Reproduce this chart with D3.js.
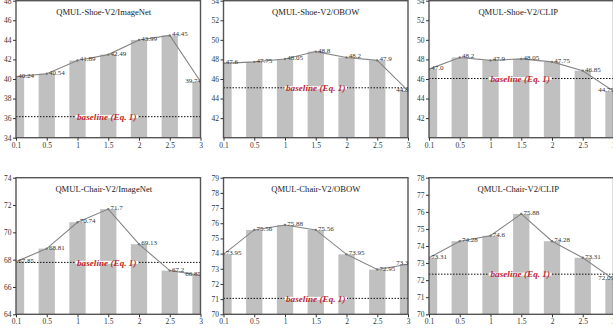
<!DOCTYPE html>
<html><head><meta charset="utf-8">
<script src="https://cdn.jsdelivr.net/npm/d3@7"></script>
<style>
html,body{margin:0;padding:0;background:#fff;overflow:hidden;}
svg{display:block;}
text{font-family:"Liberation Serif","Times New Roman",serif;}
</style></head>
<body>
<svg id="chart" width="613" height="332"></svg>
<script>
const categories = ["0.1", "0.5", "1", "1.5", "2", "2.5", "3"];
const titles = ["QMUL-Shoe-V2/ImageNet", "QMUL-Shoe-V2/OBOW", "QMUL-Shoe-V2/CLIP",
                "QMUL-Chair-V2/ImageNet", "QMUL-Chair-V2/OBOW", "QMUL-Chair-V2/CLIP"];
const shoeImageNet = [40.24, 40.54, 41.89, 42.49, 43.99, 44.45, 39.74];
const shoeOBOW     = [47.6, 47.75, 48.05, 48.8, 48.2, 47.9, 44.8];
const shoeCLIP     = [47.0, 48.2, 47.9, 48.05, 47.75, 46.85, 44.75];
const chairImageNet= [67.85, 68.81, 70.74, 71.7, 69.13, 67.2, 66.85];
const chairOBOW    = [73.95, 75.56, 75.88, 75.56, 73.95, 72.95, 73.3];
const chairCLIP    = [73.31, 74.28, 74.6, 75.88, 74.28, 73.31, 72.05];
const baselines    = [36.15, 45.1, 46.05, 67.8, 71.05, 72.35];
const baselineLabel = "baseline (Eq. 1)";
const yDomains = [[34, 48], [40, 54], [40, 54], [64, 74], [70, 79], [70, 78]];
const yTicks = [
  [34, 36, 38, 40, 42, 44, 46, 48],
  [42, 44, 46, 48, 50, 52, 54],
  [42, 44, 46, 48, 50, 52, 54],
  [64, 66, 68, 70, 72, 74],
  [70, 71, 72, 73, 74, 75, 76, 77, 78, 79],
  [70, 71, 72, 73, 74, 75, 76, 77, 78]
];
const series = [shoeImageNet, shoeOBOW, shoeCLIP, chairImageNet, chairOBOW, chairCLIP];

// layout
const colLeft = [16, 223.5, 429];
const colWidth = 184.5;
const rowTop = [0.7, 177.7];
const rowHeight = [137, 136.6];
const titleShift = [-4.5, 0, -3];
const labelShift = [-1.5, 0, -1];

const svg = d3.select("#chart");
const fmt = v => Number.isInteger(v) ? v.toFixed(1) : String(v);

series.forEach((vals, i) => {
  const c = i % 3, r = Math.floor(i / 3);
  const L = colLeft[c], T = rowTop[r], W = colWidth, H = rowHeight[r];
  const g = svg.append("g").attr("transform", `translate(${L},${T})`);
  const x = d3.scalePoint().domain(categories).range([0, W]).padding(0);
  const y = d3.scaleLinear().domain(yDomains[i]).range([H, 0]);
  const bw = x.step() * 0.53;
  const last = categories.length - 1;

  const clipId = "clip" + i;
  g.append("clipPath").attr("id", clipId).append("rect")
    .attr("x", 0).attr("y", 0).attr("width", W).attr("height", H);

  const plot = g.append("g").attr("clip-path", `url(#${clipId})`);
  plot.selectAll("rect.bar").data(vals).join("rect").attr("class", "bar")
    .attr("x", (d, k) => x(categories[k]) - bw / 2)
    .attr("width", bw)
    .attr("y", d => y(d))
    .attr("height", d => H - y(d))
    .attr("fill", "#c0c0c0");

  // baseline dotted line
  const by = y(baselines[i]);
  plot.append("line").attr("x1", 0).attr("x2", W).attr("y1", by).attr("y2", by)
    .attr("stroke", "#111").attr("stroke-width", 1).attr("stroke-dasharray", "1.5,1.5");

  // line
  const line = d3.line().x((d, k) => x(categories[k])).y(d => y(d));
  plot.append("path").datum(vals).attr("d", line)
    .attr("fill", "none").attr("stroke", "#858585").attr("stroke-width", 1.1);
  plot.selectAll("circle.pt").data(vals).join("circle").attr("class", "pt")
    .attr("cx", (d, k) => x(categories[k])).attr("cy", d => y(d)).attr("r", 1.2)
    .attr("fill", "#777");

  // baseline label with white background
  const lbl = g.append("g");
  const lt = lbl.append("text")
    .attr("x", W / 2 + labelShift[c]).attr("y", by + 3.2)
    .attr("text-anchor", "middle")
    .attr("font-size", 9.2).attr("font-weight", "bold").attr("font-style", "italic")
    .attr("fill", "#c0272d").text(baselineLabel);
  const bb = lt.node().getBBox();
  lbl.insert("rect", "text").attr("x", bb.x - 1.5).attr("y", by - 1.5)
    .attr("width", bb.width + 3).attr("height", 3).attr("fill", "#fff");

  // value labels (last one sits to the left of its point)
  g.selectAll("text.val").data(vals).join("text").attr("class", "val")
    .attr("x", (d, k) => k === last ? x(categories[k]) + 0.5 : x(categories[k]) + 2.3)
    .attr("y", d => y(d) + 1)
    .attr("text-anchor", (d, k) => k === last ? "end" : "start")
    .attr("font-size", 7).attr("fill", "#333")
    .text(d => fmt(d));

  // frame
  g.append("rect").attr("x", 0).attr("y", 0).attr("width", W).attr("height", H)
    .attr("fill", "none").attr("stroke", "#555").attr("stroke-width", 1.4);

  // axes
  const yAxis = d3.axisLeft(y).tickValues(yTicks[i]).tickSize(3).tickPadding(1.5)
    .tickFormat(d3.format("d"));
  const ya = g.append("g").call(yAxis);
  ya.select(".domain").remove();
  ya.selectAll("line").attr("stroke", "#333");
  ya.selectAll("text").attr("font-size", 7.5).attr("fill", "#333")
    .attr("font-family", '"Liberation Serif", serif');

  const xAxis = d3.axisBottom(x).tickSize(3).tickPadding(1.5);
  const xa = g.append("g").attr("transform", `translate(0,${H})`).call(xAxis);
  xa.select(".domain").remove();
  xa.selectAll("line").attr("stroke", "#333");
  xa.selectAll("text").attr("font-size", 7.5).attr("fill", "#333")
    .attr("font-family", '"Liberation Serif", serif');

  // title
  g.append("text").attr("x", W / 2 + titleShift[c]).attr("y", 14.3)
    .attr("text-anchor", "middle").attr("font-size", 8.6).attr("fill", "#222")
    .text(titles[i]);
});
</script>
</body></html>
